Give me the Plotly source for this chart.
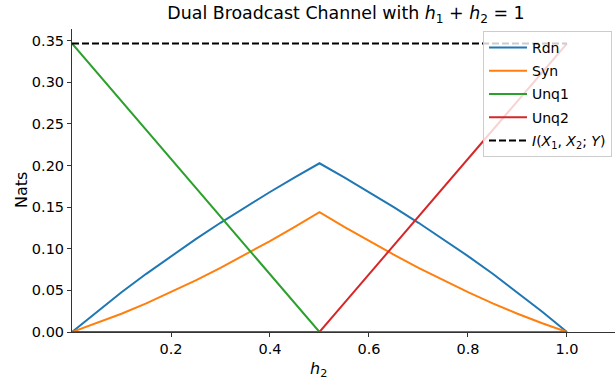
import plotly.graph_objects as go

# Data
h2 = [0.0, 0.05, 0.1, 0.15, 0.2, 0.25, 0.3, 0.35, 0.4, 0.45, 0.5,
      0.55, 0.6, 0.65, 0.7, 0.75, 0.8, 0.85, 0.9, 0.95, 1.0]
rdn = [0.0, 0.0244, 0.0477, 0.0699, 0.0912, 0.1116, 0.1312, 0.1500, 0.1682, 0.1857, 0.2027,
       0.1857, 0.1682, 0.1500, 0.1312, 0.1116, 0.0912, 0.0699, 0.0477, 0.0244, 0.0]
syn = [0.0, 0.0105, 0.0219, 0.0344, 0.0478, 0.0621, 0.0771, 0.0929, 0.1093, 0.1263, 0.1439,
       0.1263, 0.1093, 0.0929, 0.0771, 0.0621, 0.0478, 0.0344, 0.0219, 0.0105, 0.0]
unq1 = [0.3466, 0.3119, 0.2773, 0.2426, 0.2079, 0.1733, 0.1386, 0.1040, 0.0693, 0.0347, 0.0,
        0.0, 0.0, 0.0, 0.0, 0.0, 0.0, 0.0, 0.0, 0.0, 0.0]
unq2 = [0.0, 0.0, 0.0, 0.0, 0.0, 0.0, 0.0, 0.0, 0.0, 0.0, 0.0,
        0.0347, 0.0693, 0.1040, 0.1386, 0.1733, 0.2079, 0.2426, 0.2773, 0.3119, 0.3466]
mi_x = [0.0, 1.0]
mi_y = [0.3466, 0.3466]

xticks = [0.2, 0.4, 0.6, 0.8, 1.0]
xticklabels = ["0.2", "0.4", "0.6", "0.8", "1.0"]
yticks = [0.0, 0.05, 0.10, 0.15, 0.20, 0.25, 0.30, 0.35]

FONT = "DejaVu Sans"
W, H = 615, 379
L, R, T, B = 72, 0, 29, 47
PW, PH = W - L - R, H - T - B


def px_to_paper(px, py):
    return (px - L) / PW, (H - B - py) / PH


fig = go.Figure()
series = [("Rdn", rdn, "#1f77b4"), ("Syn", syn, "#ff7f0e"),
          ("Unq1", unq1, "#2ca02c"), ("Unq2", unq2, "#d62728")]
for name, ys, col in series:
    fig.add_trace(go.Scatter(x=h2, y=ys, mode="lines", name=name, legendgroup=name,
                             line=dict(color=col, width=2)))
fig.add_trace(go.Scatter(x=mi_x, y=mi_y, mode="lines", legendgroup="mi",
                         name="<i>I</i>(<i>X</i><sub>1</sub>, <i>X</i><sub>2</sub>; <i>Y</i>)",
                         line=dict(color="black", width=2, dash="7px,3px")))

lx, ly = px_to_paper(612, 31)
nx, ny = px_to_paper(21, 190)
hx, hy = px_to_paper(318, 369)
fig.update_layout(
    width=W, height=H,
    margin=dict(l=L, r=R, t=T, b=B, autoexpand=False),
    paper_bgcolor="white", plot_bgcolor="white",
    font=dict(family=FONT, size=14.5, color="black"),
    title=dict(text="Dual Broadcast Channel with <i>h</i><sub>1</sub> + <i>h</i><sub>2</sub> = 1",
               x=346 / W, xanchor="center", y=1 - 13 / H, yanchor="middle",
               font=dict(family=FONT, size=17.4, color="black")),
    legend=dict(x=lx, xanchor="right", y=ly, yanchor="top",
                bgcolor="rgba(255,255,255,0.8)", bordercolor="#cccccc", borderwidth=1,
                font=dict(family=FONT, size=14, color="black"),
                itemwidth=38, tracegroupgap=2),
    showlegend=True,
    annotations=[
        dict(text="Nats", x=nx, y=ny, xref="paper", yref="paper", showarrow=False,
             textangle=-90, xanchor="center", yanchor="middle",
             font=dict(family=FONT, size=16, color="black")),
        dict(text="<i>h</i><sub>2</sub>", x=hx, y=hy, xref="paper", yref="paper",
             showarrow=False, xanchor="center", yanchor="middle",
             font=dict(family=FONT, size=16, color="black")),
    ],
)
fig.update_xaxes(range=[0, 1.097], tickvals=xticks, ticktext=xticklabels, automargin=False,
                 showgrid=False, zeroline=False, showline=True, linecolor="#333333", linewidth=1,
                 ticks="outside", ticklen=4, tickcolor="#333333",
                 tickfont=dict(family=FONT, size=14.5))
fig.update_yaxes(range=[0, 0.364], tickvals=yticks, tickformat=".2f", automargin=False,
                 showgrid=False, zeroline=False, showline=True, linecolor="#333333", linewidth=1,
                 ticks="outside", ticklen=4, tickcolor="#333333",
                 tickfont=dict(family=FONT, size=14.5))

fig.write_html("out.html", config={"displayModeBar": False},
               post_script="document.body.style.margin='0px';")
